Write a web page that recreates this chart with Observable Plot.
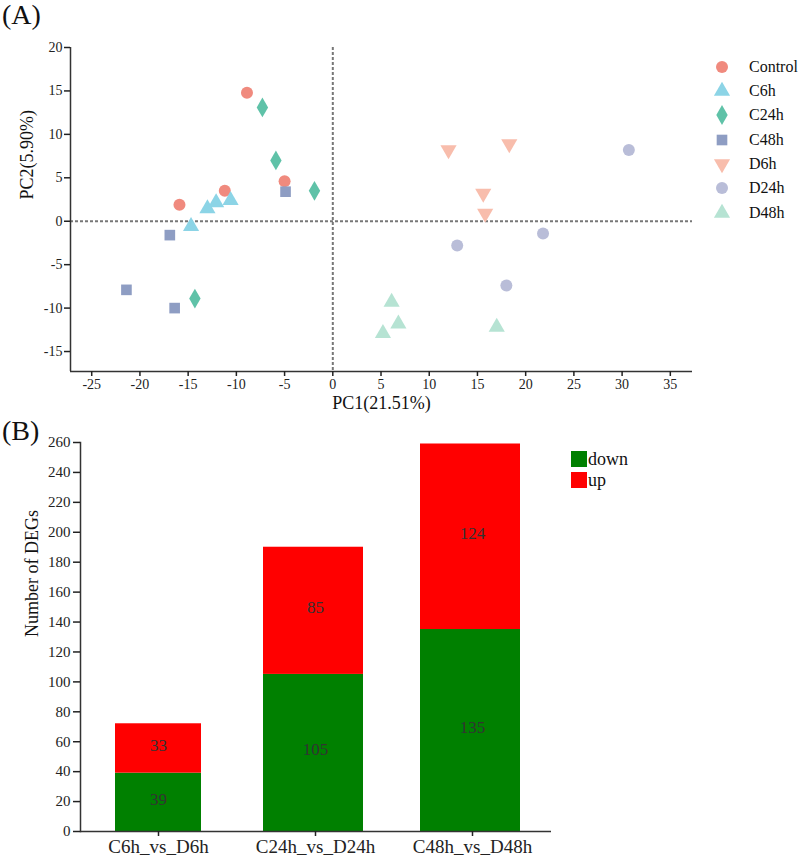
<!DOCTYPE html>
<html><head><meta charset="utf-8">
<script src="https://cdn.jsdelivr.net/npm/d3@7"></script>
<script src="https://cdn.jsdelivr.net/npm/@observablehq/plot@0.6"></script>
<style>
body{margin:0;background:#fff;font-family:"Liberation Serif","Times New Roman","DejaVu Serif",serif;}
#wrap{position:relative;width:800px;height:861px;overflow:hidden;background:#fff;}
.panel{position:absolute;left:0;}
.panel text{font-family:"Liberation Serif","Times New Roman","DejaVu Serif",serif;}
.tag{position:absolute;font-size:28px;line-height:30px;color:#111;}
.legrow{position:absolute;display:flex;align-items:center;color:#111;white-space:nowrap;}
</style></head><body><div id="wrap"></div>
<script>
// ---------- Panel A data (PCA) ----------
const groups = ["Control","C6h","C24h","C48h","D6h","D24h","D48h"];
const groupColors = ["#F08A7E","#8CD4E6","#5FC2A8","#8E9DC3","#F8BDAC","#B9BDD8","#B6E3D3"];
const groupSymbols = ["circle","triangle","diamond","square","triangleDown","circle","triangle"];
const pc1Values = [
  [-8.9, -5.0, -11.2, -15.9],
  [-13.0, -12.1, -10.6, -14.7],
  [-7.3, -5.9, -1.9, -14.3],
  [-4.9, -16.9, -21.4, -16.4],
  [12.0, 18.3, 15.6, 15.8],
  [30.7, 21.8, 12.9, 18.0],
  [6.1, 6.8, 5.2, 17.0]
];
const pc2Values = [
  [14.8, 4.6, 3.5, 1.9],
  [1.45, 2.15, 2.4, -0.6],
  [13.1, 7.0, 3.5, -8.9],
  [3.4, -1.6, -7.9, -10.0],
  [8.2, 8.9, 3.2, 0.9],
  [8.2, -1.4, -2.8, -7.4],
  [-9.3, -11.8, -12.9, -12.2]
];
const xDomainA = [-27.2, 37.3];
const yDomainA = [-17.3, 20];
const xTicksA = [-25,-20,-15,-10,-5,0,5,10,15,20,25,30,35];
const yTicksA = [-15,-10,-5,0,5,10,15,20];
const pc1Label = "PC1(21.51%)";
const pc2Label = "PC2(5.90%)";

// ---------- Panel B data (DEGs) ----------
const comparisons = ["C6h_vs_D6h","C24h_vs_D24h","C48h_vs_D48h"];
const downCounts = [39, 105, 135];
const upCounts = [33, 85, 124];
const directions = ["down","up"];
const directionColors = ["#008000","#FF0000"];
const yTicksB = [0,20,40,60,80,100,120,140,160,180,200,220,240,260];
const yDomainB = [0, 260];
const yLabelB = "Number of DEGs";

const SERIF = "Liberation Serif, Times New Roman, DejaVu Serif, serif";
const plain = (d) => String(d);

// custom downward triangle symbol
const triangleDown = {
  draw(ctx, size) {
    const y = Math.sqrt(size / (Math.sqrt(3) * 3));
    ctx.moveTo(0, 2 * y);
    ctx.lineTo(-Math.sqrt(3) * y, -y);
    ctx.lineTo(Math.sqrt(3) * y, -y);
    ctx.closePath();
  }
};
const symbolFor = (name) => name === "triangleDown" ? triangleDown : name;
const d3SymbolFor = (name) => ({circle: d3.symbolCircle, triangle: d3.symbolTriangle, diamond: d3.symbolDiamond, square: d3.symbolSquare, triangleDown})[name];

const pcaRows = groups.flatMap((g, i) => pc1Values[i].map((x, j) => ({group: g, x, y: pc2Values[i][j]})));

const wrap = document.getElementById("wrap");
const baseStyle = {fontFamily: SERIF, color: "#222", background: "transparent", overflow: "visible"};
const dash = {stroke: "#777", strokeWidth: 2, strokeDasharray: "3,2"};

const chartA = Plot.plot({
  width: 800, height: 420,
  marginTop: 47, marginBottom: 49, marginLeft: 70, marginRight: 108,
  style: baseStyle,
  x: {domain: xDomainA},
  y: {domain: yDomainA},
  marks: [
    Plot.ruleX([0], dash),
    Plot.ruleY([0], dash),
    ...groups.map((g, i) => Plot.dot(pcaRows.filter(d => d.group === g), {
      x: "x", y: "y", r: 6, symbol: symbolFor(groupSymbols[i]), fill: groupColors[i], stroke: "none"
    })),
    Plot.ruleY([yDomainA[0]], {stroke: "#333", strokeWidth: 1.5}),
    Plot.ruleX([xDomainA[0]], {stroke: "#333", strokeWidth: 1.5}),
    Plot.axisX({ticks: xTicksA, tickFormat: plain, tickSize: 5, tickPadding: 3, fontSize: 14, fontFamily: SERIF, label: null, strokeWidth: 1.5}),
    Plot.axisY({ticks: yTicksA, tickFormat: plain, tickSize: 6, tickPadding: 2, fontSize: 14, fontFamily: SERIF, label: null, strokeWidth: 1.5}),
    Plot.text([pc1Label], {text: d => d, frameAnchor: "bottom", dy: 37, fontSize: 18, fontFamily: SERIF, fill: "#111"}),
    Plot.text([pc2Label], {text: d => d, frameAnchor: "left", dx: -43, dy: -10, rotate: -90, fontSize: 18, fontFamily: SERIF, fill: "#111"})
  ]
});
chartA.classList.add("panel");
chartA.style.top = "0px";
wrap.appendChild(chartA);

const degRows = comparisons.flatMap((c, i) => [
  {comp: c, dir: directions[0], n: downCounts[i]},
  {comp: c, dir: directions[1], n: upCounts[i]}
]);

const chartB = Plot.plot({
  width: 800, height: 441,
  marginTop: 22, marginBottom: 30, marginLeft: 80, marginRight: 249,
  style: baseStyle,
  x: {domain: comparisons, paddingInner: 0.362, paddingOuter: 0.181},
  y: {domain: yDomainB},
  color: {domain: directions, range: directionColors},
  marks: [
    Plot.barY(degRows.filter(d => d.comp === comparisons[0]), {x: "comp", y: "n", fill: "dir", insetLeft: 7, insetRight: 7}),
    Plot.barY(degRows.filter(d => d.comp !== comparisons[0]), {x: "comp", y: "n", fill: "dir", dx: -2}),
    Plot.text(degRows, Plot.stackY({x: "comp", y: "n", text: d => String(d.n), fill: "#333", fontSize: 17, fontFamily: SERIF, dy: -3})),
    Plot.frame({anchor: "left", stroke: "#333", strokeWidth: 1.5}),
    Plot.ruleY([yDomainB[0]], {stroke: "#333", strokeWidth: 1.5}),
    Plot.axisY({ticks: yTicksB, tickFormat: plain, tickSize: 7, tickPadding: 3, fontSize: 15, fontFamily: SERIF, label: null, strokeWidth: 1.5}),
    Plot.axisX({tickSize: 5, tickPadding: 3, fontSize: 19, fontFamily: SERIF, label: null, strokeWidth: 1.5}),
    Plot.text([yLabelB], {text: d => d, frameAnchor: "left", dx: -48, rotate: -90, fontSize: 18, fontFamily: SERIF, fill: "#111"})
  ]
});
chartB.classList.add("panel");
chartB.style.top = "420px";
wrap.appendChild(chartB);

// panel tags
const tags = [["(A)", 0], ["(B)", 416]];
tags.forEach(([t, top]) => {
  const el = document.createElement("div");
  el.className = "tag"; el.textContent = t;
  el.style.left = "2px"; el.style.top = top + "px";
  wrap.appendChild(el);
});

// legend A
groups.forEach((g, i) => {
  const row = document.createElement("div");
  row.className = "legrow";
  row.style.left = "712px";
  row.style.top = (66.7 + i * 24.3 - 10) + "px";
  row.style.height = "20px";
  row.style.fontSize = "16px";
  const path = d3.symbol().type(d3SymbolFor(groupSymbols[i])).size(Math.PI * 36)();
  row.innerHTML = `<svg width="20" height="20" viewBox="-10 -10 20 20" style="overflow:visible"><path d="${path}" fill="${groupColors[i]}"/></svg><span style="margin-left:17px">${g}</span>`;
  wrap.appendChild(row);
});

// legend B
directions.forEach((d, i) => {
  const row = document.createElement("div");
  row.className = "legrow";
  row.style.left = "571px";
  row.style.top = (451 + i * 21) + "px";
  row.style.height = "16px";
  row.style.fontSize = "18px";
  row.innerHTML = `<span style="display:inline-block;width:16px;height:16px;background:${directionColors[i]}"></span><span style="margin-left:1px;line-height:16px">${d}</span>`;
  wrap.appendChild(row);
});
</script>
</body></html>
